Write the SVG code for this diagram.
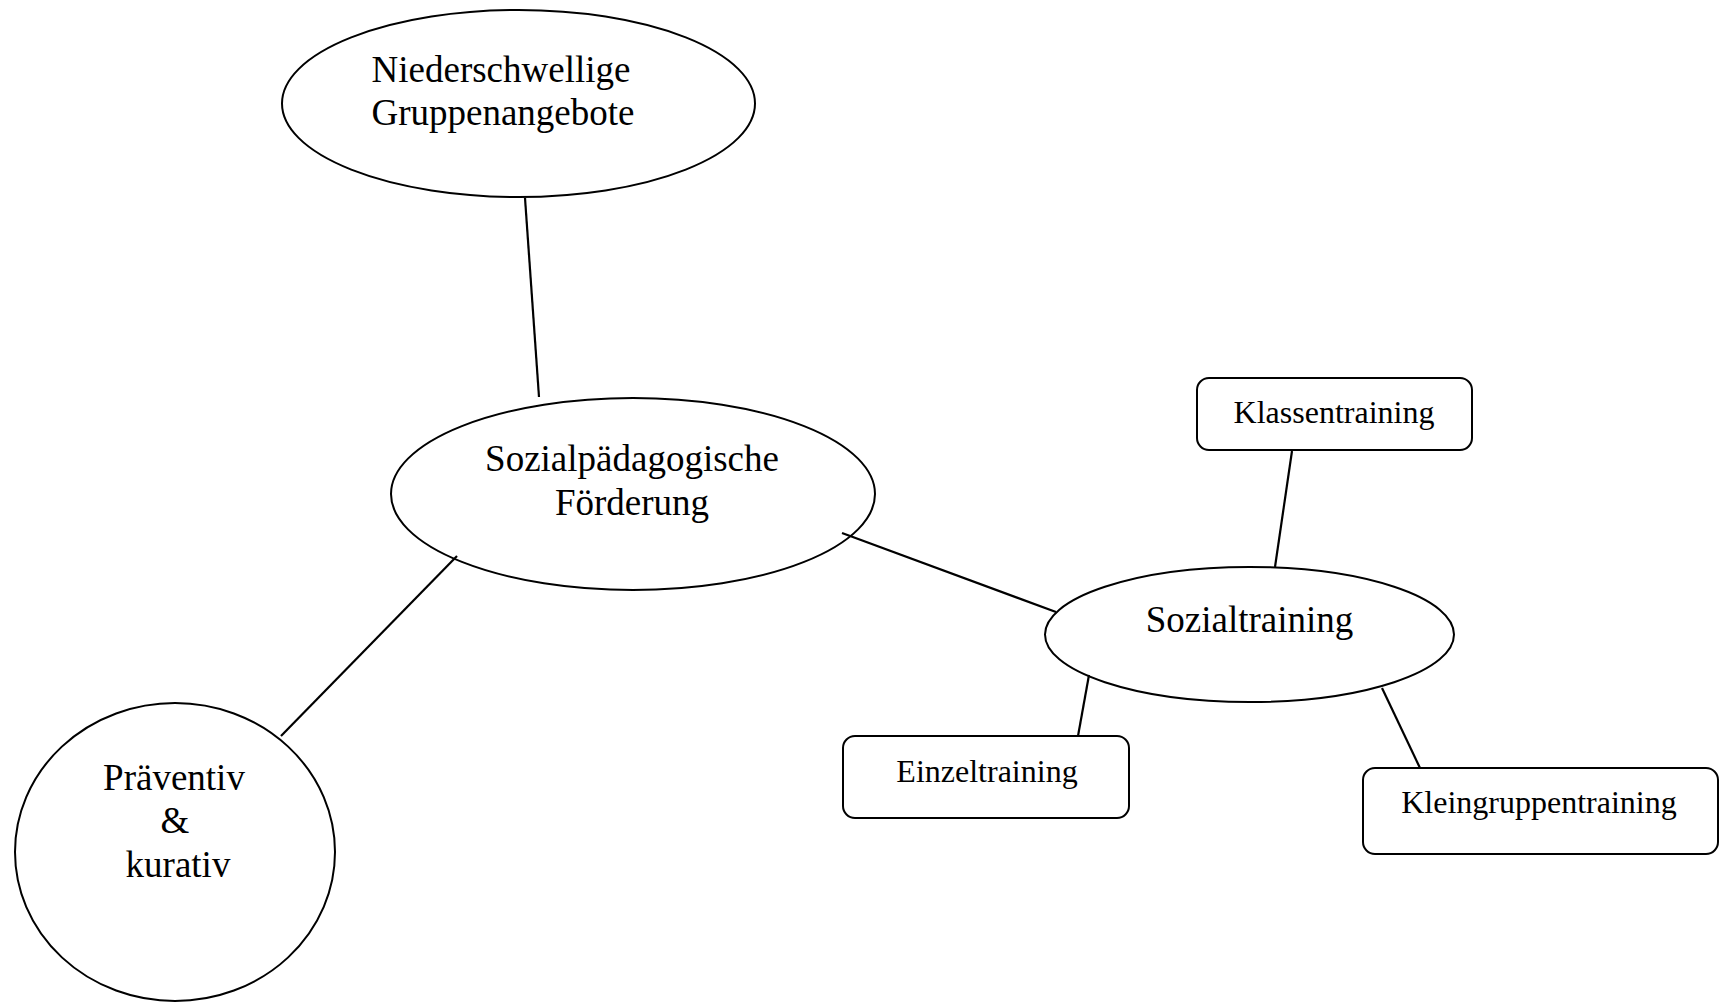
<svg xmlns="http://www.w3.org/2000/svg" width="1724" height="1003" viewBox="0 0 1724 1003">
<style>
.shape{fill:#fff;stroke:#000;stroke-width:2}
.conn{stroke:#000;stroke-width:2.2;fill:none}
.t{font-family:"Liberation Serif","Times New Roman",serif;fill:#000;text-anchor:middle}
.big{font-size:37px}
.small{font-size:32px}
</style>
<rect width="1724" height="1003" fill="#fff"/>
<g id="node-niederschwellige">
<ellipse class="shape" cx="518.5" cy="103.5" rx="236.5" ry="93.5"/>
<text class="t big" x="501" y="82">Niederschwellige</text>
<text class="t big" x="503" y="125">Gruppenangebote</text>
</g>
<g id="node-sozialpaedagogische">
<ellipse class="shape" cx="633" cy="494" rx="242" ry="96"/>
<text class="t big" x="632" y="471">Sozialpädagogische</text>
<text class="t big" x="632" y="515">Förderung</text>
</g>
<g id="node-praeventiv">
<ellipse class="shape" cx="175" cy="852" rx="160" ry="149"/>
<text class="t big" x="174" y="790">Präventiv</text>
<text class="t big" x="175" y="833">&amp;</text>
<text class="t big" x="178" y="877">kurativ</text>
</g>
<g id="node-sozialtraining">
<ellipse class="shape" cx="1249.5" cy="634.5" rx="204.5" ry="67.5"/>
<text class="t big" x="1249.5" y="632">Sozialtraining</text>
</g>
<g id="node-klassentraining">
<rect class="shape" x="1197" y="378" width="275" height="72" rx="12"/>
<text class="t small" x="1334" y="423">Klassentraining</text>
</g>
<g id="node-einzeltraining">
<rect class="shape" x="843" y="736" width="286" height="82" rx="12"/>
<text class="t small" x="987" y="782">Einzeltraining</text>
</g>
<g id="node-kleingruppentraining">
<rect class="shape" x="1363" y="768" width="355" height="86" rx="12"/>
<text class="t small" x="1539" y="813">Kleingruppentraining</text>
</g>
<g id="connectors">
<line class="conn" x1="525" y1="198" x2="539" y2="397"/>
<line class="conn" x1="842" y1="533" x2="1056" y2="612"/>
<line class="conn" x1="457" y1="556" x2="281" y2="736"/>
<line class="conn" x1="1292" y1="451" x2="1275" y2="567"/>
<line class="conn" x1="1089" y1="675" x2="1078" y2="736"/>
<line class="conn" x1="1382" y1="688" x2="1420" y2="768"/>
</g>
</svg>
